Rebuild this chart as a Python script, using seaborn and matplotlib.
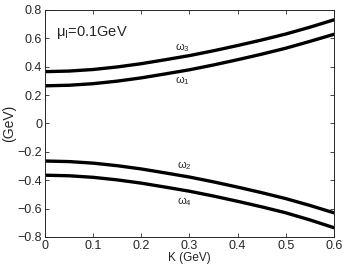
import pandas as pd
import seaborn as sns
import matplotlib
matplotlib.use("Agg")
import matplotlib.pyplot as plt

# momentum K (GeV)
k_vals = [0, 0.05, 0.1, 0.15, 0.2, 0.25, 0.3, 0.35, 0.4, 0.45, 0.5, 0.55, 0.6]
omega1 = [0.265, 0.269, 0.280, 0.298, 0.321, 0.349, 0.378, 0.412, 0.449, 0.488, 0.530, 0.578, 0.628]
omega3 = [0.365, 0.369, 0.380, 0.398, 0.421, 0.449, 0.478, 0.512, 0.549, 0.588, 0.630, 0.678, 0.730]
omega2 = [-0.265, -0.269, -0.280, -0.298, -0.321, -0.349, -0.378, -0.412, -0.449, -0.488, -0.530, -0.578, -0.630]
omega4 = [-0.365, -0.369, -0.380, -0.398, -0.421, -0.449, -0.478, -0.512, -0.549, -0.588, -0.630, -0.680, -0.735]

branches = {"w1": omega1, "w2": omega2, "w3": omega3, "w4": omega4}
rows = []
for name, vals in branches.items():
    for k, w in zip(k_vals, vals):
        rows.append({"K": k, "omega": w, "branch": name})
df = pd.DataFrame(rows)

sns.set_style("ticks")
plt.rcParams['font.family'] = ['Liberation Sans', 'DejaVu Sans']
plt.rcParams['mathtext.fontset'] = 'custom'
plt.rcParams['mathtext.rm'] = 'Liberation Sans'
plt.rcParams['mathtext.it'] = 'Liberation Sans'

fig = plt.figure(figsize=(3.46, 2.68), dpi=100)
ax = fig.add_axes([0.130, 0.116, 0.835, 0.847])

sns.lineplot(data=df, x="K", y="omega", units="branch", estimator=None,
             color="black", linewidth=2.4, ax=ax)

ax.set_xlim(0, 0.6)
ax.set_ylim(-0.8, 0.8)
ax.set_xticks([0, 0.1, 0.2, 0.3, 0.4, 0.5, 0.6])
ax.set_xticklabels(["0", "0.1", "0.2", "0.3", "0.4", "0.5", "0.6"])
ax.set_yticks([-0.8, -0.6, -0.4, -0.2, 0, 0.2, 0.4, 0.6, 0.8])
ax.set_yticklabels(["\u22120.8", "\u22120.6", "\u22120.4", "\u22120.2", "0", "0.2", "0.4", "0.6", "0.8"])
ax.tick_params(direction="in", top=True, right=True, length=3, width=0.6,
               labelsize=9, pad=2)
for s in ax.spines.values():
    s.set_linewidth(0.7)
    s.set_visible(True)

ax.set_xlabel("K (GeV)", fontsize=8.5, labelpad=0)
ax.set_ylabel("(GeV)", fontsize=10, labelpad=1)

ax.text(0.022, 0.64, r"$\mu_I$=0.1GeV", fontsize=10.5, va="center")
ax.text(0.27, 0.49, r"$\omega_3$", fontsize=8, va="bottom")
ax.text(0.27, 0.345, r"$\omega_1$", fontsize=8, va="top")
ax.text(0.275, -0.345, r"$\omega_2$", fontsize=8, va="bottom")
ax.text(0.275, -0.505, r"$\omega_4$", fontsize=8, va="top")

fig.savefig("out.png", dpi=100)
